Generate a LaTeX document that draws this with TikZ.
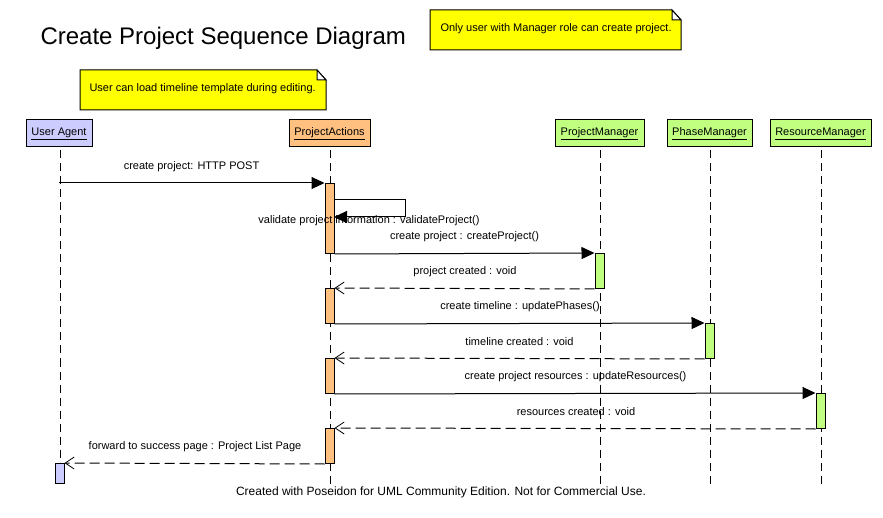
\documentclass[tikz,border=0pt]{standalone}
\usepackage{fontspec}
\setmainfont{Liberation Sans}
\usetikzlibrary{arrows.meta}
\definecolor{uacol}{HTML}{CCCCFF}
\definecolor{pacol}{HTML}{FFC080}
\definecolor{mgcol}{HTML}{C0FF80}
\definecolor{notecol}{HTML}{FFFF00}
\newcommand{\hdtext}[1]{\underline{#1\vphantom{jg}}}
\begin{document}
\begin{tikzpicture}[x=1pt,y=-1pt,line width=1pt,
  head/.style={draw,line width=1pt,minimum height=27pt,inner xsep=4pt,font=\fontsize{11}{13}\selectfont},
  lifeline/.style={line width=0.9pt,dash pattern=on 8pt off 5pt},
  actbar/.style={draw,line width=1pt,minimum width=9pt,inner sep=0pt,anchor=north},
  call/.style={line width=1pt,-{Triangle[length=13pt,width=12pt]}},
  reply/.style={line width=1pt,dash pattern=on 10pt off 5pt,-{Straight Barb[length=9pt,width=12pt,line width=0.8pt]}},
  lbl/.style={font=\fontsize{11}{13}\selectfont,inner sep=0pt,yshift=-2pt},
  footlbl/.style={font=\fontsize{12}{14}\selectfont,inner sep=0pt},
  notetext/.style={font=\fontsize{11}{13}\selectfont,inner sep=0pt}]
\useasboundingbox (0,0) rectangle (883,518);
% title
\node[font=\fontsize{24}{28}\selectfont,anchor=west,inner sep=0pt] (title) at (40,38) {Create Project Sequence Diagram};
% notes
\filldraw[fill=notecol,line width=1pt] (430,10) -- (672,10) -- (681,20) -- (681,50) -- (430,50) -- cycle;
\filldraw[fill=white,line width=1pt] (672,10) -- (672,20) -- (681,20) -- cycle;
\node[notetext,anchor=west] (note1) at (440,29) {Only user with Manager role can create project.};
\filldraw[fill=notecol,line width=1pt] (80,70) -- (317,70) -- (326,80) -- (326,110) -- (80,110) -- cycle;
\filldraw[fill=white,line width=1pt] (317,70) -- (317,80) -- (326,80) -- cycle;
\node[notetext,anchor=west] (note2) at (89,89) {User can load timeline template during editing.};
% heads
\node[head,fill=uacol,minimum width=66pt] (ua) at (59,133.5) {\hdtext{User Agent}};
\node[head,fill=pacol,minimum width=81pt] (pa) at (329.5,133.5) {\hdtext{ProjectActions}};
\node[head,fill=mgcol,minimum width=89pt] (pm) at (599.5,133.5) {\hdtext{ProjectManager}};
\node[head,fill=mgcol,minimum width=85pt] (ph) at (709.5,133.5) {\hdtext{PhaseManager}};
\node[head,fill=mgcol,minimum width=101pt] (rm) at (820.5,133.5) {\hdtext{ResourceManager}};
% lifeline ends
\coordinate (uaend) at (60,485);
\coordinate (paend) at (330,485);
\coordinate (pmend) at (600,485);
\coordinate (phend) at (710,485);
\coordinate (rmend) at (821,485);
\draw[lifeline] (ua.south -| uaend) ++(0,3) -- (uaend);
\draw[lifeline] (pa.south -| paend) ++(0,3) -- (paend);
\draw[lifeline] (pm.south -| pmend) ++(0,3) -- (pmend);
\draw[lifeline] (ph.south -| phend) ++(0,3) -- (phend);
\draw[lifeline] (rm.south -| rmend) ++(0,3) -- (rmend);
% activations
\node[actbar,fill=pacol,minimum height=70pt] (a1) at (329.5,183) {};
\node[actbar,fill=mgcol,minimum height=35pt] (b1) at (599.5,253) {};
\node[actbar,fill=pacol,minimum height=35pt] (a2) at (329.5,288) {};
\node[actbar,fill=mgcol,minimum height=35pt] (b2) at (709.5,323) {};
\node[actbar,fill=pacol,minimum height=35pt] (a3) at (329.5,358) {};
\node[actbar,fill=mgcol,minimum height=35pt] (b3) at (820.5,393) {};
\node[actbar,fill=pacol,minimum height=35pt] (a4) at (329.5,428) {};
\node[actbar,fill=uacol,minimum height=20pt] (u1) at (59.5,463) {};
% messages
\draw[call] (ua.south |- a1.north) -- (a1.north west);
\node[lbl] (l1) at (191.5,165) {create project: HTTP POST};
\coordinate (s1) at (334,200);
\coordinate (s2) at (334,217);
\draw[call] (s1) -- (405,200) -- (405,217) -- (s2);
\node[lbl] (l2) at (369,219) {validate project information : validateProject()};
\draw[call] (a1.south east) -- (b1.north west);
\node[lbl] (l3) at (464.5,235) {create project : createProject()};
\draw[reply] (b1.south west) -- (a2.north east);
\node[lbl] (l4) at (465,270) {project created : void};
\draw[call] (a2.south east) -- (b2.north west);
\node[lbl] (l5) at (520,305) {create timeline : updatePhases()};
\draw[reply] (b2.south west) -- (a3.north east);
\node[lbl] (l6) at (519.5,340) {timeline created : void};
\draw[call] (a3.south east) -- (b3.north west);
\node[lbl] (l7) at (575.5,375) {create project resources : updateResources()};
\draw[reply] (b3.south west) -- (a4.north east);
\node[lbl] (l8) at (576,410) {resources created : void};
\draw[reply] (a4.south west) -- (u1.north east);
\node[lbl] (l9) at (195,445) {forward to success page : Project List Page};
% footer
\node[footlbl] (foot) at (441,492) {Created with Poseidon for UML Community Edition. Not for Commercial Use.};
\end{tikzpicture}
\end{document}
